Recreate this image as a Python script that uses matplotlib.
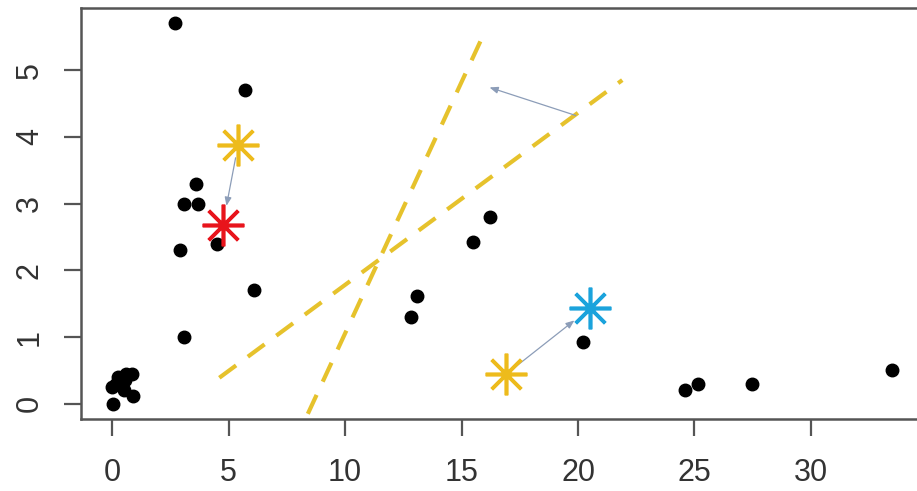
import matplotlib
matplotlib.use("Agg")
import matplotlib.pyplot as plt

plt.rcParams["font.family"] = ["Liberation Sans", "DejaVu Sans"]

# ── Datos ────────────────────────────────────────────────────────────────────
pts_x = [2.7, 5.7, 3.6, 3.1, 3.7, 2.9, 4.5, 6.1, 3.1,
         0.05, 0.0, 0.15, 0.25, 0.55, 0.6, 0.85, 0.9, 0.5,
         12.85, 13.1, 15.5, 16.2, 20.2, 24.6, 25.15, 27.45, 33.5]
pts_y = [5.7, 4.7, 3.3, 3.0, 3.0, 2.3, 2.4, 1.7, 1.0,
         0.0, 0.25, 0.3, 0.4, 0.35, 0.45, 0.45, 0.12, 0.2,
         1.3, 1.62, 2.42, 2.8, 0.92, 0.21, 0.3, 0.3, 0.51]

# centroides viejos (amarillo) y nuevos (rojo / azul)
old_x = [5.4, 16.9]
old_y = [3.87, 0.44]
new_x = [4.75, 20.5]
new_y = [2.68, 1.43]
new_colors = ["#E8141C", "#1BA3DC"]

# líneas discontinuas (fronteras)
line1_x = [4.6, 21.9]
line1_y = [0.39, 4.85]
line2_x = [8.4, 15.9]
line2_y = [-0.15, 5.5]

# flecha entre fronteras
arr_from = (19.9, 4.32)
arr_to = (16.2, 4.74)

x_ticks = [0, 5, 10, 15, 20, 25, 30]
y_ticks = [0, 1, 2, 3, 4, 5]

# ── Figura ───────────────────────────────────────────────────────────────────
fig = plt.figure(figsize=(9.17, 4.91), dpi=100)
ax = fig.add_axes([0.0883, 0.1466, 0.919, 0.8371])
ax.set_xlim(-1.34, 34.84)
ax.set_ylim(-0.228, 5.93)

gold = "#E6C22C"
arrow_c = "#8C9DB8"

ax.plot(line1_x, line1_y, color=gold, lw=3, dashes=(5, 3.5), zorder=2)
ax.plot(line2_x, line2_y, color=gold, lw=3, dashes=(5, 3.5), zorder=2)

ax.annotate("", xy=arr_to, xytext=arr_from,
            arrowprops=dict(arrowstyle="-|>,head_length=0.5,head_width=0.2",
                            color=arrow_c, lw=0.9, shrinkA=0, shrinkB=0), zorder=3)

ax.plot(pts_x, pts_y, "o", color="black", ms=9, zorder=4)

for ox, oy, nx, ny in zip(old_x, old_y, new_x, new_y):
    ax.annotate("", xy=(nx, ny), xytext=(ox, oy),
                arrowprops=dict(arrowstyle="-|>,head_length=0.5,head_width=0.2",
                                color=arrow_c, lw=0.9, shrinkA=9, shrinkB=14), zorder=5)

ax.plot(old_x, old_y, linestyle="none", marker=(8, 2, 0), ms=30, mew=2.6,
        color="#EDBB1C", zorder=6)
for nx, ny, c in zip(new_x, new_y, new_colors):
    ax.plot(nx, ny, marker=(8, 2, 0), ms=30, mew=2.6, color=c, zorder=6)

ax.set_xticks(x_ticks)
ax.set_yticks(y_ticks)
for s in ax.spines.values():
    s.set_color("#555555")
    s.set_linewidth(1.8)
ax.tick_params(axis="both", colors="#555555", length=12, width=1.6,
               labelsize=22, labelcolor="#333333")
ax.tick_params(axis="x", pad=16)
ax.tick_params(axis="y", pad=14)
for lab in ax.get_yticklabels():
    lab.set_rotation(90)
    lab.set_va("center")

fig.savefig("out.png", dpi=100)
